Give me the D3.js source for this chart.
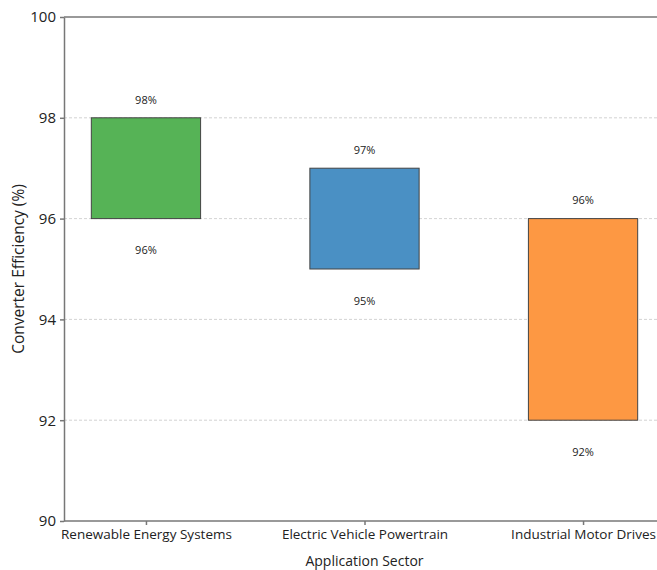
<!DOCTYPE html>
<html>
<script src="https://d3js.org/d3.v7.min.js"></script>
<style>
    body { margin: 0; background: #fff; }
    svg { display: block; }
    svg text { font-family: "Open Sans", sans-serif; fill: #222; }
</style>
<body></body>
<script>
    const sectors = ["Renewable Energy Systems", "Electric Vehicle Powertrain", "Industrial Motor Drives"];
    const lowEff = [96, 95, 92];
    const highEff = [98, 97, 96];
    const barColors = ["#56b356", "#4a90c4", "#fd9843"];
    const yTicks = [90, 92, 94, 96, 98, 100];

    const width = 657, height = 570;
    const mLeft = 64, mTop = 17, mBottom = 521, mRight = 665;

    const svg = d3.select("body").append("svg").attr("width", width).attr("height", height);

    const x = d3.scalePoint().domain(sectors).range([mLeft, mRight]).padding(0.375);
    const y = d3.scaleLinear().domain([90, 100]).range([mBottom, mTop]);
    const bw = x.step() * 0.5;

    // grid
    svg.append("g").selectAll("line")
        .data(yTicks.slice(1, -1))
        .join("line")
        .attr("x1", mLeft).attr("x2", width)
        .attr("y1", d => y(d)).attr("y2", d => y(d))
        .attr("stroke", "#c8c8c8")
        .attr("stroke-dasharray", "3,2")
        .attr("stroke-width", 0.8);

    const data = sectors.map((s, i) => ({ s, lo: lowEff[i], hi: highEff[i], c: barColors[i] }));

    svg.append("g").selectAll("rect")
        .data(data)
        .join("rect")
        .attr("x", d => x(d.s) - bw / 2)
        .attr("y", d => y(d.hi))
        .attr("width", bw)
        .attr("height", d => y(d.lo) - y(d.hi))
        .attr("fill", d => d.c)
        .attr("stroke", "#444")
        .attr("stroke-width", 1);

    const labels = svg.append("g").attr("font-size", 11).attr("text-anchor", "middle");
    labels.selectAll(".hi")
        .data(data)
        .join("text")
        .attr("class", "hi")
        .attr("x", d => x(d.s))
        .attr("y", d => y(d.hi + 0.36))
        .attr("dy", "0.35em")
        .text(d => d.hi + "%");
    labels.selectAll(".lo")
        .data(data)
        .join("text")
        .attr("class", "lo")
        .attr("x", d => x(d.s))
        .attr("y", d => y(d.lo - 0.63))
        .attr("dy", "0.35em")
        .text(d => d.lo + "%");

    // top spine
    svg.append("line").attr("x1", mLeft).attr("x2", width).attr("y1", mTop).attr("y2", mTop)
        .attr("stroke", "#777").attr("stroke-width", 1.5);

    const xAxis = svg.append("g")
        .attr("transform", `translate(0,${mBottom})`)
        .call(d3.axisBottom(x).tickSize(4).tickSizeOuter(0).tickPadding(4));
    xAxis.select(".domain").attr("d", `M${mLeft},0H${width}`);
    xAxis.selectAll("path,line").attr("stroke", "#777").attr("stroke-width", 1.5);
    xAxis.selectAll("text").attr("font-size", 13.5).attr("fill", "#222");

    const yAxis = svg.append("g")
        .attr("transform", `translate(${mLeft},0)`)
        .call(d3.axisLeft(y).tickValues(yTicks).tickSize(4).tickSizeOuter(0).tickPadding(4));
    yAxis.selectAll("path,line").attr("stroke", "#777").attr("stroke-width", 1.5);
    yAxis.selectAll("text").attr("font-size", 15).attr("fill", "#222");

    svg.append("text")
        .attr("text-anchor", "middle")
        .attr("x", x(sectors[1]))
        .attr("y", 566)
        .attr("font-size", 14)
        .text("Application Sector");
    svg.append("text")
        .attr("text-anchor", "middle")
        .attr("transform", `translate(24,${(mTop + mBottom) / 2})rotate(-90)`)
        .attr("font-size", 15.5)
        .text("Converter Efficiency (%)");
</script>
</html>
